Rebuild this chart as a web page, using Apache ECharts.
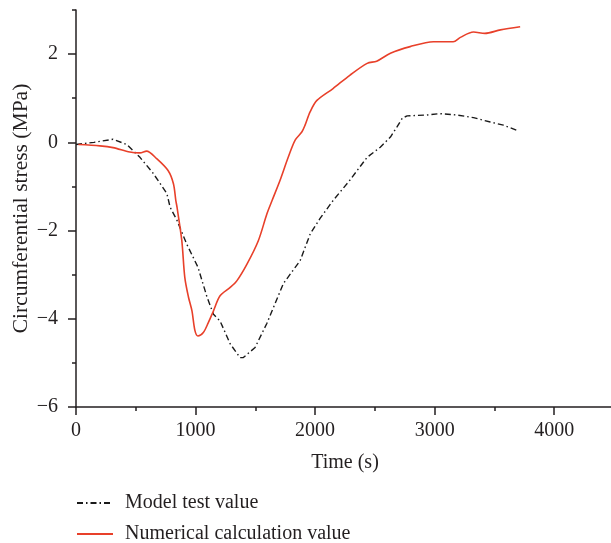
<!DOCTYPE html>
<html>
<head>
<meta charset="utf-8">
<script src="https://cdn.jsdelivr.net/npm/echarts@6/dist/echarts.min.js"></script>
<style>
  html, body { margin: 0; padding: 0; background: #fff; }
  #chart { width: 611px; height: 543px; }
</style>
</head>
<body>
<div id="chart"></div>
<script>
// Model test value (dash-dot black)
const modelTime = [0, 150, 310, 425, 535, 645, 760, 787, 845, 925, 1020, 1095, 1150, 1205, 1290, 1372, 1400, 1498, 1597, 1735, 1875, 1960, 2040, 2150, 2290, 2435, 2545, 2630, 2685, 2730, 2770, 2935, 3045, 3185, 3325, 3465, 3575, 3700];
const modelValue = [-0.05, 0.0, 0.07, -0.05, -0.34, -0.7, -1.16, -1.47, -1.77, -2.3, -2.83, -3.5, -3.9, -4.05, -4.57, -4.88, -4.88, -4.65, -4.1, -3.2, -2.68, -2.07, -1.73, -1.32, -0.86, -0.34, -0.11, 0.12, 0.35, 0.55, 0.6, 0.62, 0.65, 0.62, 0.56, 0.46, 0.39, 0.26];

// Numerical calculation value (red)
const calcTime = [20, 200, 310, 450, 535, 590, 675, 770, 815, 835, 845, 885, 910, 940, 970, 995, 1020, 1065, 1105, 1150, 1205, 1290, 1345, 1430, 1525, 1597, 1640, 1707, 1775, 1833, 1890, 1916, 1958, 2015, 2150, 2290, 2435, 2515, 2630, 2795, 2990, 3155, 3215, 3325, 3420, 3550, 3715];
const calcValue = [-0.05, -0.08, -0.12, -0.22, -0.24, -0.2, -0.37, -0.64, -0.94, -1.32, -1.47, -2.23, -3.06, -3.5, -3.82, -4.27, -4.39, -4.31, -4.1, -3.82, -3.48, -3.29, -3.14, -2.76, -2.23, -1.62, -1.32, -0.86, -0.34, 0.05, 0.24, 0.39, 0.69, 0.95, 1.22, 1.52, 1.79, 1.84, 2.02, 2.17, 2.28, 2.28, 2.38, 2.5, 2.47, 2.55, 2.62];

const xMajor = [0, 1000, 2000, 3000, 4000];
const yMajor = [-6, -4, -2, 0, 2];

const ink = '#231f20';
const font = 'Liberation Serif';

const zip = (a, b) => a.map((v, i) => [v, b[i]]);

const legendBase = {
    orient: 'vertical',
    left: 71,
    itemWidth: 36,
    itemHeight: 12,
    itemStyle: { opacity: 0 },
    textStyle: { fontFamily: font, fontSize: 20, color: ink, padding: [0, 0, 0, 7] }
};

const chart = echarts.init(document.getElementById('chart'));

chart.setOption({
    animation: false,
    textStyle: { fontFamily: font, color: ink },
    grid: { left: 76, top: 10, width: 538, height: 397, containLabel: false, outerBoundsMode: 'none' },
    legend: [
        Object.assign({ top: 488, data: ['Model test value'] }, legendBase),
        Object.assign({ top: 519, data: ['Numerical calculation value'] }, legendBase)
    ],
    xAxis: [
        {
            type: 'value',
            position: 'bottom',
            min: 0,
            max: 4500,
            interval: 500,
            name: 'Time (s)',
            nameLocation: 'middle',
            nameGap: 46,
            nameMoveOverlap: false,
            nameTextStyle: { fontFamily: font, fontSize: 20, color: ink },
            axisLine: { show: true, onZero: false, lineStyle: { color: ink, width: 1.5 } },
            axisTick: { show: true, length: 4, lineStyle: { color: ink, width: 1.5 } },
            axisLabel: {
                customValues: xMajor,
                margin: 14,
                fontFamily: font,
                fontSize: 20,
                color: ink,
                formatter: v => String(v)
            },
            splitLine: { show: false }
        },
        {
            type: 'value',
            position: 'bottom',
            min: 0,
            max: 4500,
            axisLine: { show: false, onZero: false },
            axisTick: { show: true, customValues: xMajor, length: 8, lineStyle: { color: ink, width: 1.5 } },
            axisLabel: { show: false },
            splitLine: { show: false }
        }
    ],
    yAxis: [
        {
            type: 'value',
            position: 'left',
            min: -6,
            max: 3,
            interval: 1,
            name: 'Circumferential stress (MPa)',
            nameLocation: 'middle',
            nameGap: 44,
            nameMoveOverlap: false,
            nameTextStyle: { fontFamily: font, fontSize: 21.5, color: ink },
            axisLine: { show: true, onZero: false, lineStyle: { color: ink, width: 1.5 } },
            axisTick: { show: true, length: 4, lineStyle: { color: ink, width: 1.5 } },
            axisLabel: {
                customValues: yMajor,
                margin: 18,
                fontFamily: font,
                fontSize: 20,
                color: ink,
                formatter: v => String(v).replace('-', '\u2212')
            },
            splitLine: { show: false }
        },
        {
            type: 'value',
            position: 'left',
            min: -6,
            max: 3,
            axisLine: { show: false, onZero: false },
            axisTick: { show: true, customValues: yMajor, length: 8, lineStyle: { color: ink, width: 1.5 } },
            axisLabel: { show: false },
            splitLine: { show: false }
        }
    ],
    series: [
        {
            name: 'Model test value',
            type: 'line',
            data: zip(modelTime, modelValue),
            symbol: 'none',
            lineStyle: { color: '#1a1a1a', width: 1.4, type: [6, 3, 1.5, 3] },
            itemStyle: { color: '#1a1a1a' }
        },
        {
            name: 'Numerical calculation value',
            type: 'line',
            data: zip(calcTime, calcValue),
            symbol: 'none',
            smooth: 0.3,
            lineStyle: { color: '#e8402a', width: 1.6 },
            itemStyle: { color: '#e8402a' }
        }
    ]
});
</script>
</body>
</html>
